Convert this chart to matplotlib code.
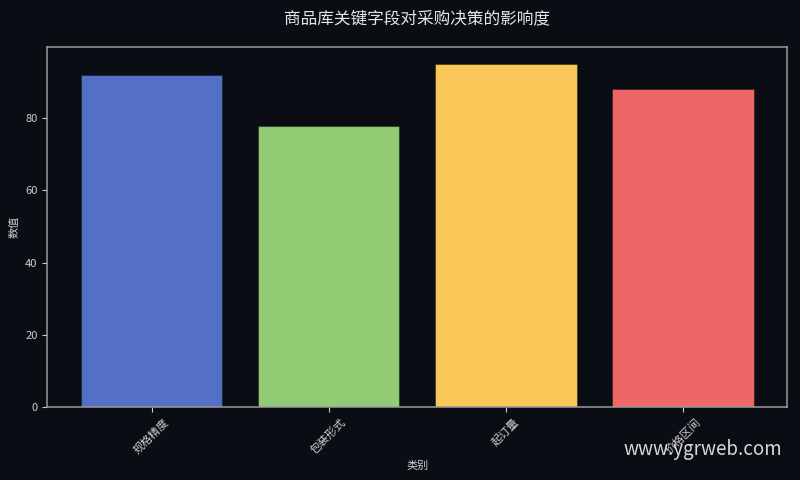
import matplotlib
matplotlib.use("Agg")
import matplotlib.pyplot as plt

plt.rcParams['font.family'] = ['Noto Sans CJK SC', 'DejaVu Sans']

categories = ["规格精度", "包装形式", "起订量", "价格区间"]
values = [92, 78, 95, 88]
colors = ["#5470c6", "#91cc75", "#fac858", "#ee6666"]
title = "商品库关键字段对采购决策的影响度"
xlabel = "类别"
ylabel = "数值"
watermark = "www.ygrweb.com"

bg = "#0b0d14"
fig = plt.figure(figsize=(8, 4.8), dpi=100, facecolor=bg)
ax = fig.add_axes([0.059, 0.152, 0.925, 0.750])
ax.set_facecolor(bg)

ax.bar(range(len(categories)), values, width=0.8, color=colors,
       edgecolor=(0, 0, 0, 0.35), linewidth=0.8)
ax.set_ylim(0, max(values) * 1.05)
ax.set_xticks(range(len(categories)))
ax.set_xticklabels(categories, rotation=45, fontsize=8)
ax.tick_params(axis='y', labelsize=8)
ax.tick_params(colors="#cfcfcf", which='both')
for sp in ax.spines.values():
    sp.set_color("#9a9a9a")
    sp.set_linewidth(1.1)
ax.set_xlabel(xlabel, fontsize=8, color="#cfcfcf")
ax.set_ylabel(ylabel, fontsize=8, color="#cfcfcf")
ax.set_title(title, fontsize=12, color="#e6e6e6", pad=17)

fig.text(0.978, 0.064, watermark, ha='right', va='center', fontsize=13.5,
         color="#d8d8d8")

fig.savefig("out.png", dpi=100, facecolor=bg)
